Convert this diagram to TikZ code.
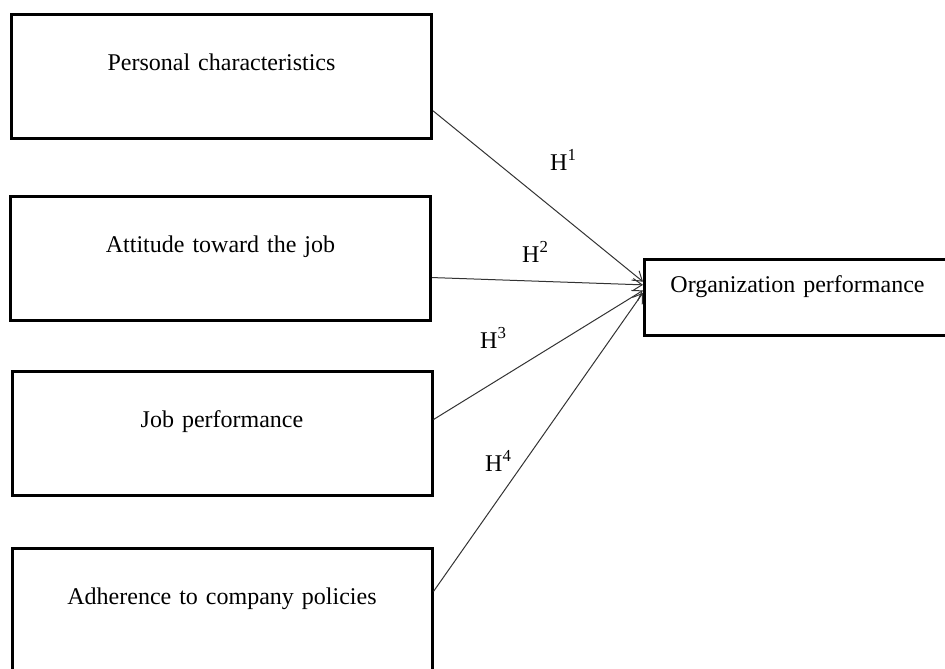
\documentclass[tikz,border=0pt]{standalone}
\usepackage{fontspec}
\setmainfont{Liberation Serif}
\usetikzlibrary{arrows.meta,calc}

\tikzset{
  factor/.style={draw=black, line width=3pt, rectangle, inner sep=0pt,
    text width=420pt, align=center, text height=56pt, text depth=68pt,
    font=\fontsize{24}{28}\selectfont},
  outcome/.style={draw=black, line width=3pt, rectangle, inner sep=0pt,
    text width=306pt, align=center, text height=33pt, text depth=43pt,
    font=\fontsize{24}{28}\selectfont},
  link/.style={draw=black!80, line width=1pt,
    -{Straight Barb[length=9pt,width=12pt,line width=1pt]}},
  hyp/.style={inner sep=0pt, anchor=base west, font=\fontsize{24}{28}\selectfont}
}

\begin{document}
\begin{tikzpicture}[x=1pt,y=-1pt]
  \useasboundingbox (0,0) rectangle (945,669);
  \clip (0,0) rectangle (945,669);

  % predictor boxes
  \node[factor] (pc)  at (221.5,76.5) {Personal characteristics};
  \node[factor] (att) at (220.5,258.5) {Attitude toward the job};
  \node[factor] (jp)  at (222,433.5) {Job performance};
  \node[factor] (adh) at (222,610.5) {Adherence to company policies};

  % outcome box
  \node[outcome] (org) at (797.5,297.5) {Organization performance};

  % hypothesised paths
  \draw[link] ($(pc.north east)!0.77!(pc.south east)$)
      -- ($(org.north west)!0.30!(org.south west)$);
  \draw[link] ($(att.north east)!0.65!(att.south east)$)
      -- ($(org.north west)!0.34!(org.south west)$);
  \draw[link] ($(jp.north east)!0.39!(jp.south east)$)
      -- ($(org.north west)!0.41!(org.south west)$);
  \draw[link] ($(adh.north east)!0.35!(adh.south east)$)
      -- ($(org.north west)!0.44!(org.south west)$);

  % hypothesis labels
  \node[hyp] (h1) at (550,170) {H\textsuperscript{1}};
  \node[hyp] (h2) at (522,262) {H\textsuperscript{2}};
  \node[hyp] (h3) at (480,348) {H\textsuperscript{3}};
  \node[hyp] (h4) at (485,471) {H\textsuperscript{4}};
\end{tikzpicture}
\end{document}
